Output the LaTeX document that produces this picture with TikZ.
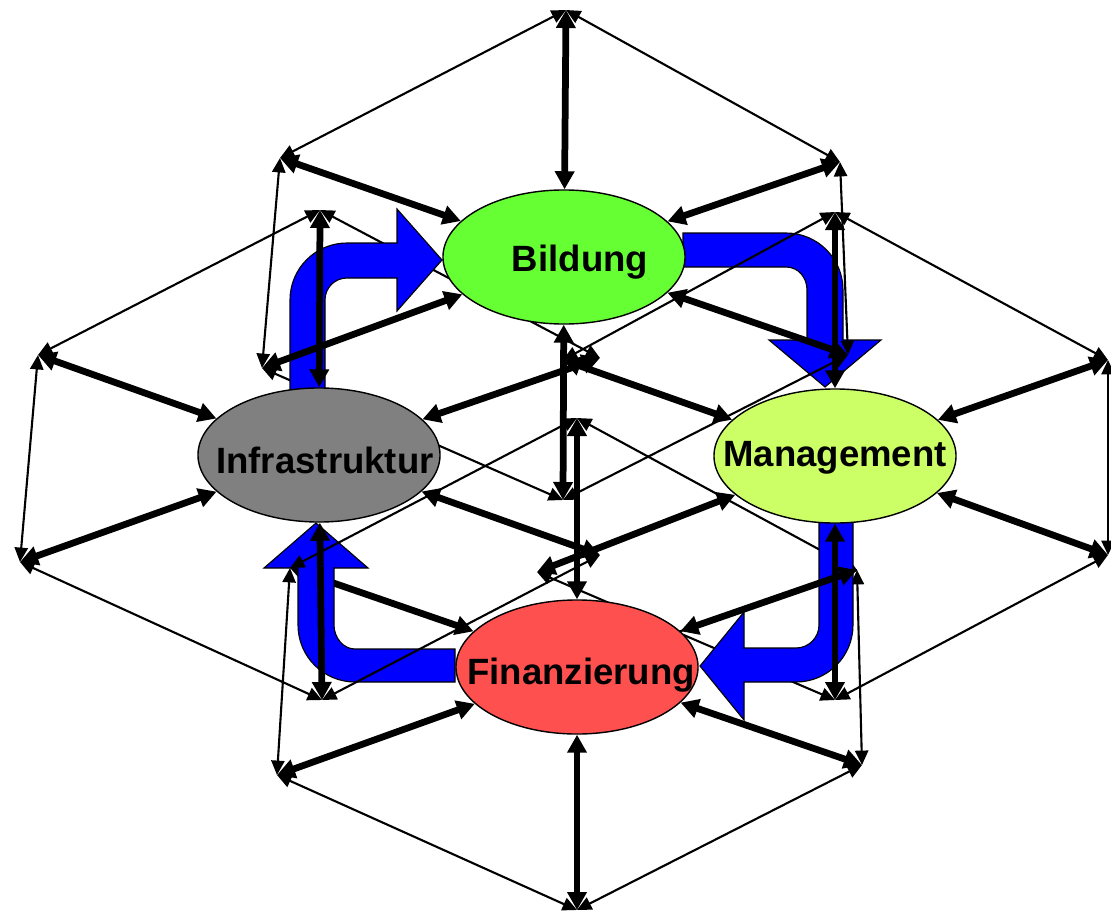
\documentclass[tikz,border=0pt]{standalone}
\usepackage{fontspec}
\setmainfont{Liberation Sans}
\usetikzlibrary{arrows.meta, shapes.geometric, backgrounds}

\definecolor{bilgreen}{HTML}{66FF33}
\definecolor{infgray}{HTML}{808080}
\definecolor{mangreen}{HTML}{CCFF66}
\definecolor{finred}{HTML}{FF5050}
\definecolor{turnblue}{HTML}{0000FF}

\tikzset{
  ell/.style={ellipse, draw, line width=1pt, minimum width=6.05cm, minimum height=3.35cm, inner sep=0pt},
  lbl/.style={font=\bfseries\fontsize{26}{30}\selectfont, anchor=base, inner sep=0pt},
  spoke/.style={line width=4.8pt, {Triangle[length=0.45cm,width=0.47cm]}-{Triangle[length=0.45cm,width=0.47cm]}},
  link/.style={line width=1.5pt, {Triangle[length=0.36cm,width=0.33cm]}-{Triangle[length=0.36cm,width=0.33cm]}},
  uturn/.style={fill=turnblue, draw=black, line width=0.8pt}
}

\begin{document}
\begin{tikzpicture}[x=0.025cm, y=-0.025cm]
  \useasboundingbox (0,0) rectangle (1111,913);
  \clip (0,0) rectangle (1111,913);

  % hexagon corners round each field
  \coordinate (bT) at (566,10);   \coordinate (bB) at (563,500);
  \coordinate (bUL) at (280,158); \coordinate (bUR) at (840,162);
  \coordinate (bLL) at (262,368); \coordinate (bLR) at (848,355);
  \coordinate (iT) at (320,210);  \coordinate (iB) at (322,700);
  \coordinate (iUL) at (38,355);  \coordinate (iUR) at (600,358);
  \coordinate (iLL) at (20,562);  \coordinate (iLR) at (600,555);
  \coordinate (mT) at (835,212);  \coordinate (mB) at (835,700);
  \coordinate (mUL) at (563,360); \coordinate (mUR) at (1108,360);
  \coordinate (mLL) at (537,572); \coordinate (mLR) at (1108,555);
  \coordinate (fT) at (577,418);  \coordinate (fB) at (577,910);
  \coordinate (fUL) at (290,568); \coordinate (fUR) at (857,570);
  \coordinate (fLL) at (277,775); \coordinate (fLR) at (862,765);
  \coordinate (fC) at (577,667);

  % blue turns Bildung -> Management, Finanzierung -> Infrastruktur
  \draw[uturn] (683,233) -- (786,233) .. controls (817.5,233) and (843,258.5) .. (843,290)
    -- (843,340) -- (881,340) -- (825,387) -- (769,340) -- (807,340) -- (807,290)
    .. controls (807,277.6) and (798.4,267) .. (786,267) -- (683,267) -- cycle;
  \draw[uturn] (455,649) -- (455,682) -- (355,682) .. controls (323.5,682) and (298,656.5) .. (298,625)
    -- (298,568) -- (264,568) -- (316,523) -- (368,568) -- (334,568) -- (334,625)
    .. controls (334,637.7) and (343.3,649) .. (355,649) -- cycle;

  % thin hexagon sides
  \foreach \a/\b in {bT/bUL, bT/bUR, bUL/bLL, bUR/bLR, bLL/bB, bLR/bB,
                     iT/iUL, iT/iUR, iUL/iLL, iLL/iB, iLR/iB,
                     mT/mUL, mT/mUR, mUR/mLR, mLL/mB, mLR/mB,
                     fT/fUL, fT/fUR, fUL/fLL, fUR/fLR, fLL/fB, fLR/fB}
    \draw[link] (\a) -- (\b);
  \draw[line width=1.5pt] (fC) -- (fUR);

  % blue turns Infrastruktur -> Bildung, Management -> Finanzierung
  \draw[uturn] (290,400) -- (290,300) .. controls (290,268.5) and (315.5,243) .. (347,243)
    -- (397,243) -- (397,209) -- (442,260) -- (397,311) -- (397,278) -- (347,278)
    .. controls (334.8,278) and (325,287.8) .. (325,300) -- (325,400) -- cycle;
  \draw[uturn] (819,515) -- (853,515) -- (853,625) .. controls (853,656.5) and (827.5,682) .. (796,682)
    -- (744,682) -- (744,720) -- (700,666) -- (744,612) -- (744,648) -- (796,648)
    .. controls (808.7,648) and (819,637.7) .. (819,625) -- cycle;

  % fields
  \node[ell, fill=bilgreen] (bil) at (564,257) {};
  \node[ell, fill=infgray] (inf) at (319,455) {};
  \node[ell, fill=mangreen] (man) at (835,456) {};
  \node[ell, fill=finred] (fin) at (577,667) {};
  \node[lbl] (bilT) at (580,271) {Bildung};
  \node[lbl] (infT) at (325,473) {Infrastruktur};
  \node[lbl] (manT) at (835,466) {Management};
  \node[lbl] (finT) at (581,684) {Finanzierung};

  % thick spokes
  \foreach \n/\h/\vs in {bil/b/{T,UL,UR,LL,LR,B}, inf/i/{T,UL,UR,LL,LR,B},
                         man/m/{T,UL,UR,LL,LR,B}, fin/f/{T,UR,LL,LR,B}}
    \foreach \v in \vs
      \draw[spoke] (\n) -- (\h\v);
  \begin{scope}[on background layer]
    \draw[spoke] (fin) -- (fUL);
  \end{scope}
\end{tikzpicture}
\end{document}
